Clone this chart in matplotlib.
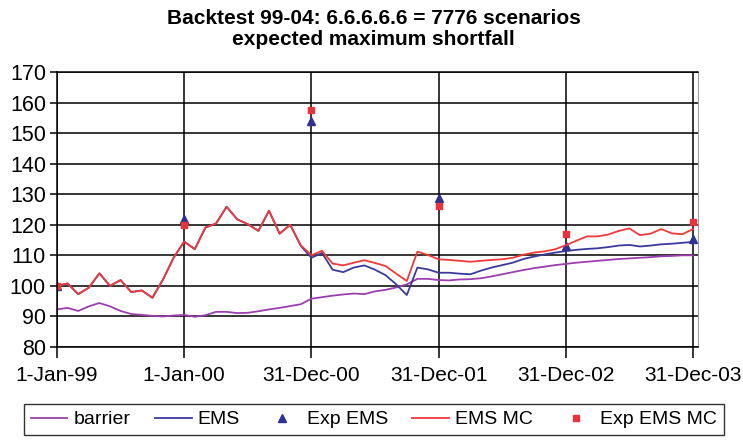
import matplotlib.pyplot as plt


TICK_POS = [0, 12, 24, 36, 48, 60]
TICK_LABELS = ["1-Jan-99", "1-Jan-00", "31-Dec-00", "31-Dec-01", "31-Dec-02", "31-Dec-03"]

# monthly values, Jan 1999 .. Dec 2003
barrier = [
    92.3, 92.8, 91.8, 93.3, 94.4, 93.3, 91.8, 90.8, 90.5, 90.2, 90.0, 90.3,
    90.5, 89.9, 90.4, 91.5, 91.5, 91.1, 91.2, 91.7, 92.3, 92.8, 93.4, 94.0,
    95.8, 96.3, 96.8, 97.2, 97.5, 97.3, 98.2, 98.7, 99.5, 100.5, 102.3, 102.3,
    101.9, 101.8, 102.1, 102.2, 102.5, 103.1, 103.8, 104.5, 105.2, 105.8, 106.3, 106.8,
    107.2, 107.6, 107.9, 108.2, 108.5, 108.8, 109.0, 109.2, 109.4, 109.7, 109.8, 110.0,
    110.0,
]
ems = [
    100.0, 100.8, 97.3, 99.4, 104.1, 100.0, 101.9, 98.0, 98.5, 96.1, 102.1, 109.2,
    114.5, 112.0, 119.1, 120.4, 125.9, 121.8, 120.2, 118.0, 124.6, 117.1, 120.0, 113.1,
    109.2, 110.8, 105.3, 104.5, 106.0, 106.7, 105.3, 103.5, 100.5, 97.0, 106.0, 105.4,
    104.3, 104.3, 104.0, 103.8, 105.0, 106.0, 106.8, 107.6, 108.8, 109.6, 110.3, 110.9,
    111.4, 111.8, 112.1, 112.3, 112.7, 113.2, 113.4, 112.9, 113.2, 113.6, 113.8, 114.1,
    114.4,
]
ems_mc = [
    100.0, 100.8, 97.3, 99.4, 104.1, 100.0, 101.9, 98.0, 98.5, 96.1, 102.1, 109.2,
    114.5, 112.0, 119.1, 120.4, 125.9, 121.8, 120.2, 118.0, 124.6, 117.1, 120.0, 113.3,
    110.0, 111.5, 107.3, 106.7, 107.6, 108.4, 107.5, 106.5, 104.0, 101.6, 111.2, 110.1,
    108.7, 108.5, 108.2, 107.9, 108.2, 108.5, 108.7, 109.2, 110.2, 110.9, 111.3, 112.0,
    113.3, 114.8, 116.2, 116.2, 116.8, 118.0, 118.8, 116.6, 117.1, 118.6, 117.2, 116.9,
    118.6,
]
exp_ems = [100.0, 122.0, 154.0, 128.7, 113.1, 115.3]
exp_ems_mc = [100.0, 120.0, 157.6, 126.3, 117.0, 121.0]

plt.rcParams["font.family"] = ["Liberation Sans", "DejaVu Sans"]

fig = plt.figure(figsize=(7.43, 4.45), dpi=100)
ax = fig.add_axes([57 / 743, 1 - 347 / 445, (698 - 57) / 743, (347 - 72) / 445])

months = list(range(len(barrier)))
ax.plot(months, barrier, color="#9b3fae", lw=1.3, label="barrier")
ax.plot(months, ems, color="#3a3a9c", lw=1.3, label="EMS")
ax.plot(TICK_POS, exp_ems, ls="none", marker="^", ms=6, color="#2e3192", label="Exp EMS")
ax.plot(months, ems_mc, color="#f03a3a", lw=1.3, label="EMS MC")
ax.plot(TICK_POS, exp_ems_mc, ls="none", marker="s", ms=4.5, color="#e8323c", label="Exp EMS MC")

ax.set_xlim(0, 60.47)
ax.set_ylim(80, 170)
ax.set_yticks(range(80, 171, 10))
ax.set_xticks(TICK_POS)
ax.set_xticklabels(TICK_LABELS)
ax.grid(True, color="black", lw=1.1)
ax.set_axisbelow(True)
ax.tick_params(axis="x", length=8, width=1.1, labelsize=15, pad=6)
ax.tick_params(axis="y", length=5, width=1.1, labelsize=15.5, pad=3)
for side in ["left", "bottom", "top"]:
    ax.spines[side].set_color("black")
    ax.spines[side].set_linewidth(1.1)
ax.spines["right"].set_color("#a0a0a0")

fig.text(0.503, 0.98, "Backtest 99-04: 6.6.6.6.6 = 7776 scenarios\nexpected maximum shortfall",
         ha="center", va="top", fontsize=15, fontweight="bold", linespacing=1.15)

leg = fig.legend(loc="lower center", bbox_to_anchor=(0.503, 0.0), ncol=5, fontsize=14,
                 frameon=True, fancybox=False, edgecolor="black", handlelength=1.9,
                 columnspacing=1.25, handletextpad=0.3, borderpad=0.35)
leg.get_frame().set_linewidth(1.0)

fig.savefig("out.png", dpi=100)
